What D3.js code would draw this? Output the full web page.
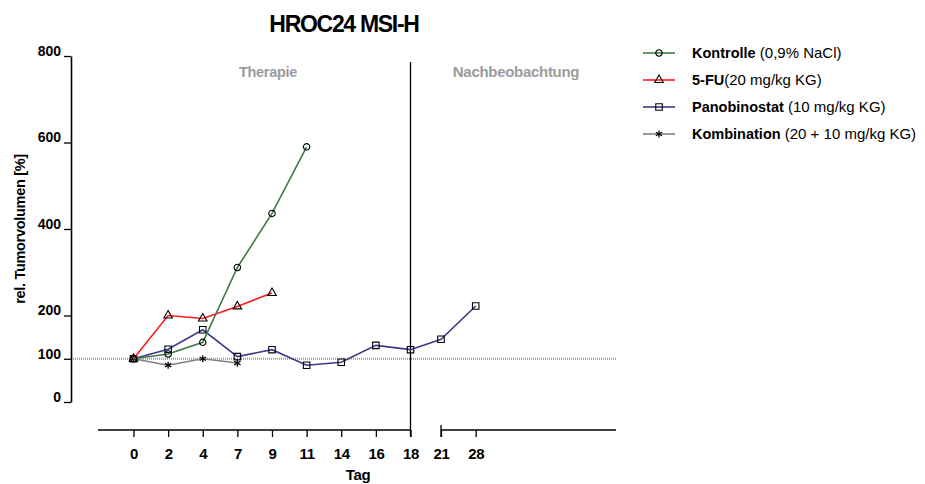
<!DOCTYPE html>
<html>
<head>
<meta charset="utf-8">
<script src="https://cdn.jsdelivr.net/npm/d3@7"></script>
<style>
    body { margin: 0; background: #fff; }
    svg { display: block; font-family: "Liberation Sans", Arial, sans-serif; }
    .tick text { font-weight: bold; fill: #000; }
</style>
</head>
<body>
<svg id="chart" width="925" height="484"></svg>
<script>
    // data
    const therapyDays = ["0", "2", "4", "7", "9", "11", "14", "16", "18"];
    const followDays = ["21", "28"];
    const yTicks = [0, 100, 200, 400, 600, 800];

    const kontrolle = [[0, 100], [2, 111], [4, 138], [7, 311], [9, 436], [11, 590]];
    const fu = [[0, 100], [2, 200], [4, 193], [7, 221], [9, 252]];
    const panobinostat = [[0, 100], [2, 122], [4, 167], [7, 105], [9, 121], [11, 85],
        [14, 92], [16, 131], [18, 121], [21, 145], [28, 222]];
    const kombination = [[0, 100], [2, 85], [4, 100], [7, 90]];

    const series = [
        {name: "Kombination", extra: " (20 + 10 mg/kg KG)", values: kombination, color: "#808080", marker: "star"},
        {name: "Panobinostat", extra: "  (10 mg/kg KG)", values: panobinostat, color: "#3c3a8a", marker: "square"},
        {name: "5-FU", extra: "(20 mg/kg KG)", values: fu, color: "#ff1a1a", marker: "triangle"},
        {name: "Kontrolle", extra: " (0,9% NaCl)", values: kontrolle, color: "#3f7a4a", marker: "circle"}
    ];
    const legendOrder = ["Kontrolle", "5-FU", "Panobinostat", "Kombination"];

    const svg = d3.select("#chart");

    // scales
    const y = d3.scaleLinear().domain([0, 800]).range([402, 56]);
    const xTherapy = d3.scalePoint().domain(therapyDays).range([133.5, 410.5]);
    const xFollow = d3.scalePoint().domain(followDays).range([441, 475.7]);
    const x = d => therapyDays.includes(String(d)) ? xTherapy(String(d)) : xFollow(String(d));

    const axisY = 430;

    // reference line at 100
    svg.append("line")
        .attr("x1", 71).attr("x2", 616)
        .attr("y1", y(100)).attr("y2", y(100))
        .attr("stroke", "#999")
        .attr("stroke-width", 1.8)
        .attr("stroke-dasharray", "1,1");

    // phase divider
    svg.append("line")
        .attr("x1", xTherapy("18")).attr("x2", xTherapy("18"))
        .attr("y1", 62).attr("y2", axisY + 7)
        .attr("stroke", "#000").attr("stroke-width", 1.3);

    // y axis
    const gy = svg.append("g")
        .attr("transform", "translate(71,0)")
        .call(d3.axisLeft(y).tickValues(yTicks).tickSize(7).tickPadding(3).tickSizeOuter(0));
    gy.select(".domain").attr("stroke-width", 1.6);
    gy.selectAll(".tick line").attr("stroke-width", 1.3);
    gy.selectAll(".tick text")
        .attr("font-size", 14)
        .attr("dy", "-0.05em");

    // x axis, two segments
    const gx1 = svg.append("g")
        .attr("transform", `translate(0,${axisY})`)
        .call(d3.axisBottom(xTherapy).tickSize(7).tickPadding(11).tickSizeOuter(0));
    const gx2 = svg.append("g")
        .attr("transform", `translate(0,${axisY})`)
        .call(d3.axisBottom(xFollow).tickSize(7).tickPadding(11).tickSizeOuter(0));
    [gx1, gx2].forEach(g => {
        g.select(".domain").remove();
        g.selectAll(".tick line").attr("stroke-width", 1.3);
        g.selectAll(".tick text").attr("font-size", 15).attr("letter-spacing", -0.4);
    });
    svg.append("line")
        .attr("x1", 98).attr("x2", xTherapy("18"))
        .attr("y1", axisY).attr("y2", axisY)
        .attr("stroke", "#000").attr("stroke-width", 1.6);
    svg.append("line")
        .attr("x1", xFollow("21")).attr("x2", 616)
        .attr("y1", axisY).attr("y2", axisY)
        .attr("stroke", "#000").attr("stroke-width", 1.6);
    svg.append("line")
        .attr("x1", xFollow("21")).attr("x2", xFollow("21"))
        .attr("y1", axisY - 5).attr("y2", axisY + 7)
        .attr("stroke", "#000").attr("stroke-width", 1.3);

    // lines
    const line = d3.line().x(d => x(d[0])).y(d => y(d[1]));

    const symbols = {
        circle: d3.symbol().type(d3.symbolCircle).size(32),
        square: d3.symbol().type(d3.symbolSquare).size(42),
        triangle: d3.symbol().type(d3.symbolTriangle).size(32),
        star: d3.symbol().type(d3.symbolAsterisk).size(36)
    };

    const drawMarker = (g, type, px, py) => {
        g.append("path")
            .attr("transform", `translate(${px},${py})`)
            .attr("d", symbols[type]())
            .attr("fill", "none")
            .attr("stroke", "#000")
            .attr("stroke-width", type === "star" ? 1.3 : 1.1);
    };

    series.forEach(s => {
        const g = svg.append("g");
        g.append("path")
            .datum(s.values)
            .attr("d", line)
            .attr("fill", "none")
            .attr("stroke", s.color)
            .attr("stroke-width", 1.6);
        s.values.forEach(d => drawMarker(g, s.marker, x(d[0]), y(d[1])));
    });

    // texts
    svg.append("text")
        .attr("x", 344).attr("y", 32)
        .attr("text-anchor", "middle")
        .attr("font-size", 23).attr("font-weight", "bold")
        .attr("letter-spacing", -1.3)
        .text("HROC24 MSI-H");

    svg.append("text")
        .attr("x", 268).attr("y", 77)
        .attr("text-anchor", "middle")
        .attr("font-size", 14.5).attr("font-weight", "bold")
        .attr("fill", "#9b9b9b").attr("letter-spacing", -0.3)
        .text("Therapie");

    svg.append("text")
        .attr("x", 516).attr("y", 77)
        .attr("text-anchor", "middle")
        .attr("font-size", 15).attr("font-weight", "bold")
        .attr("fill", "#9b9b9b").attr("letter-spacing", -0.3)
        .text("Nachbeobachtung");

    svg.append("text")
        .attr("transform", "translate(25,229) rotate(-90)")
        .attr("text-anchor", "middle")
        .attr("font-size", 14.5).attr("font-weight", "bold")
        .attr("letter-spacing", -0.3)
        .text("rel. Tumorvolumen [%]");

    svg.append("text")
        .attr("x", 358).attr("y", 480)
        .attr("text-anchor", "middle")
        .attr("font-size", 15).attr("font-weight", "bold")
        .attr("letter-spacing", -0.4)
        .text("Tag");

    // legend
    const legend = svg.append("g");
    legendOrder.forEach((name, i) => {
        const s = series.find(d => d.name === name);
        const ly = 53 + i * 27;
        legend.append("line")
            .attr("x1", 643).attr("x2", 675)
            .attr("y1", ly).attr("y2", ly)
            .attr("stroke", s.color).attr("stroke-width", 1.6);
        drawMarker(legend, s.marker, 659, ly);
        const t = legend.append("text")
            .attr("x", 692).attr("y", ly + 5);
        t.append("tspan").attr("font-weight", "bold").attr("font-size", 14.5).text(s.name);
        t.append("tspan").attr("font-size", 15).text(s.extra);
    });
</script>
</body>
</html>
